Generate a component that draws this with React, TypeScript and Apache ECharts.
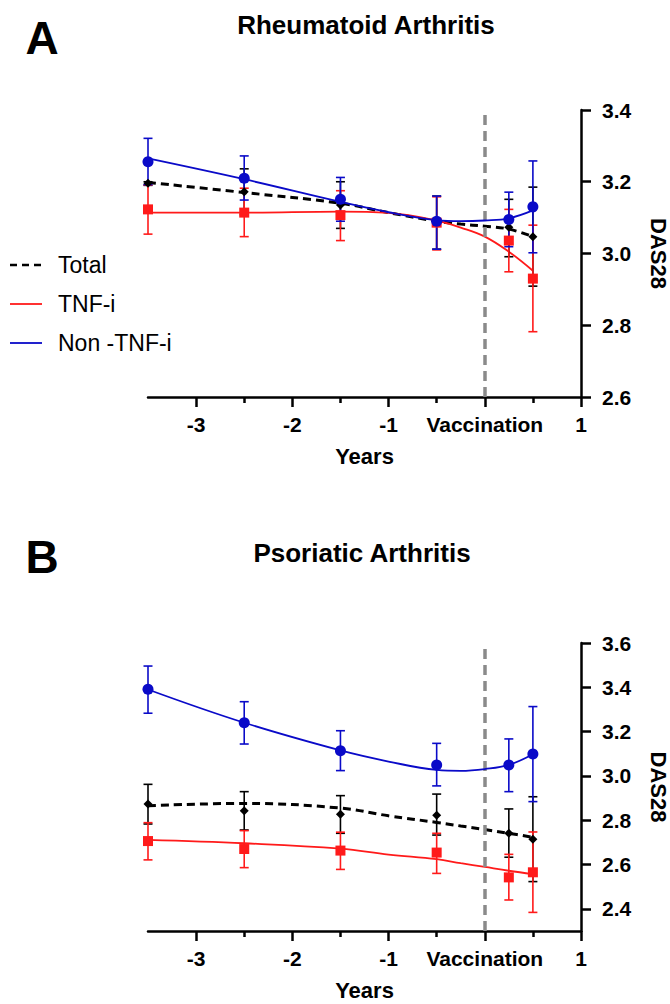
import React, { useEffect, useRef } from "react";
import * as echarts from "echarts";

// ---------- data ----------
const timePoints = [-3.5, -2.5, -1.5, -0.5, 0.25, 0.5];
const xTickValues = [-3, -2, -1, 0, 1];
const xMinorTickValues = [-2.5, -1.5, -0.5, 0.5];

// Rheumatoid arthritis (panel A)
const raTotalMean = [3.196, 3.172, 3.135, 3.088, 3.073, 3.047];
const raTotalLow = [3.19, 3.108, 3.07, 3.012, 2.991, 2.909];
const raTotalHigh = [3.2, 3.236, 3.2, 3.16, 3.151, 3.185];
const raTnfMean = [3.123, 3.114, 3.107, 3.086, 3.036, 2.93];
const raTnfLow = [3.054, 3.047, 3.036, 3.01, 2.949, 2.782];
const raTnfHigh = [3.191, 3.182, 3.175, 3.158, 3.123, 3.079];
const raNonMean = [3.256, 3.21, 3.151, 3.09, 3.095, 3.13];
const raNonLow = [3.192, 3.149, 3.09, 3.012, 3.019, 3.002];
const raNonHigh = [3.321, 3.272, 3.212, 3.16, 3.171, 3.258];

// fitted curves
const curveX = [-3.5, -2.5, -1.5, -1, -0.5, -0.25, 0, 0.25, 0.5];
const raTotalFit = [3.198, 3.17, 3.14, 3.114, 3.09, 3.082, 3.076, 3.068, 3.047];
const raTnfFit = [3.114, 3.114, 3.117, 3.113, 3.092, 3.072, 3.047, 3.005, 2.952];
const raNonFit = [3.265, 3.207, 3.144, 3.115, 3.093, 3.09, 3.092, 3.098, 3.12];

// Psoriatic arthritis (panel B)
const psaTotalMean = [2.873, 2.843, 2.827, 2.822, 2.741, 2.714];
const psaTotalLow = [2.783, 2.756, 2.741, 2.733, 2.633, 2.523];
const psaTotalHigh = [2.962, 2.929, 2.911, 2.918, 2.851, 2.906];
const psaTnfMean = [2.706, 2.67, 2.663, 2.654, 2.542, 2.565];
const psaTnfLow = [2.621, 2.586, 2.578, 2.56, 2.44, 2.384];
const psaTnfHigh = [2.789, 2.753, 2.746, 2.741, 2.646, 2.747];
const psaNonMean = [3.391, 3.24, 3.114, 3.049, 3.049, 3.099];
const psaNonLow = [3.283, 3.144, 3.024, 2.955, 2.929, 2.884];
const psaNonHigh = [3.496, 3.335, 3.204, 3.147, 3.167, 3.313];

const psaTotalFit = [2.865, 2.876, 2.855, 2.82, 2.79, 2.774, 2.758, 2.741, 2.723];
const psaTnfFit = [2.711, 2.696, 2.672, 2.645, 2.624, 2.606, 2.589, 2.572, 2.557];
const psaNonFit = [3.39, 3.24, 3.115, 3.065, 3.027, 3.023, 3.031, 3.05, 3.098];

const raYTicks = [2.6, 2.8, 3.0, 3.2, 3.4];
const psaYTicks = [2.4, 2.6, 2.8, 3.0, 3.2, 3.4, 3.6];

const legendNames = ["Total", "TNF-i", "Non -TNF-i"];

// ---------- style ----------
const FONT = "'Liberation Sans', Arial, Helvetica, sans-serif";
const BLUE = "#0a0ac8";
const RED = "#ff1a1a";
const BLACK = "#000000";
const GREY = "#8a8a8a";

const zip = (xs: number[], ys: number[]) => xs.map((x, i) => [x, ys[i]]);
const zip3 = (xs: number[], a: number[], b: number[]) => xs.map((x, i) => [x, a[i], b[i]]);

function errorSeries(gi: number, color: string, low: number[], high: number[], z: number) {
  return {
    type: "custom",
    xAxisIndex: gi * 2,
    yAxisIndex: gi,
    z,
    silent: true,
    encode: { x: 0, y: [1, 2] },
    data: zip3(timePoints, low, high),
    renderItem: (params: any, api: any) => {
      const x = api.value(0);
      const lo = api.coord([x, api.value(1)]);
      const hi = api.coord([x, api.value(2)]);
      const w = 4.5;
      const st = { stroke: color, lineWidth: 1.6 };
      return {
        type: "group",
        children: [
          { type: "line", shape: { x1: hi[0], y1: hi[1], x2: lo[0], y2: lo[1] }, style: st },
          { type: "line", shape: { x1: hi[0] - w, y1: hi[1], x2: hi[0] + w, y2: hi[1] }, style: st },
          { type: "line", shape: { x1: lo[0] - w, y1: lo[1], x2: lo[0] + w, y2: lo[1] }, style: st },
        ],
      };
    },
  };
}

function fitSeries(gi: number, color: string, ys: number[], dashed: boolean, z: number, withVLine: boolean) {
  const s: any = {
    type: "line",
    xAxisIndex: gi * 2,
    yAxisIndex: gi,
    z,
    smooth: 0.4,
    showSymbol: false,
    silent: true,
    data: zip(curveX, ys),
    lineStyle: dashed
      ? { color, width: 3, type: [8, 5] }
      : { color, width: 1.8 },
  };
  if (withVLine) {
    s.markLine = {
      silent: true,
      symbol: "none",
      label: { show: false },
      lineStyle: { color: GREY, width: 3.5, type: [10, 6] },
      data: [{ xAxis: 0 }],
    };
  }
  return s;
}

function markerSeries(gi: number, color: string, ys: number[], symbol: string, size: number, z: number) {
  return {
    type: "scatter",
    xAxisIndex: gi * 2,
    yAxisIndex: gi,
    z,
    symbol,
    symbolSize: size,
    silent: true,
    itemStyle: { color, opacity: 1 },
    data: zip(timePoints, ys),
  };
}

function panelSeries(gi: number, d: any) {
  return [
    fitSeries(gi, BLACK, d.totalFit, true, 3, true),
    fitSeries(gi, RED, d.tnfFit, false, 4, false),
    fitSeries(gi, BLUE, d.nonFit, false, 5, false),
    errorSeries(gi, BLACK, d.totalLow, d.totalHigh, 6),
    errorSeries(gi, RED, d.tnfLow, d.tnfHigh, 7),
    errorSeries(gi, BLUE, d.nonLow, d.nonHigh, 8),
    markerSeries(gi, BLACK, d.totalMean, "diamond", 9, 9),
    markerSeries(gi, RED, d.tnfMean, "rect", 10, 10),
    markerSeries(gi, BLUE, d.nonMean, "circle", 11, 11),
  ];
}

function xAxes(gi: number) {
  const line = { show: true, lineStyle: { color: BLACK, width: 2.5 } };
  return [
    {
      type: "value",
      gridIndex: gi,
      min: -3.5,
      max: 1,
      axisLine: { ...line, onZero: false },
      axisTick: { show: true, customValues: xTickValues, length: 10, lineStyle: { color: BLACK, width: 2.5 } },
      axisLabel: {
        show: true,
        customValues: xTickValues,
        formatter: (v: number) => (v === 0 ? "Vaccination" : String(v)),
        color: BLACK,
        fontFamily: FONT,
        fontWeight: "bold",
        fontSize: 21,
        margin: 17,
      },
      splitLine: { show: false },
      name: "Years",
      nameLocation: "middle",
      nameGap: 48,
      nameTextStyle: { color: BLACK, fontFamily: FONT, fontWeight: "bold", fontSize: 22 },
    },
    {
      type: "value",
      gridIndex: gi,
      min: -3.5,
      max: 1,
      position: "bottom",
      axisLine: { show: false, onZero: false },
      axisTick: { show: true, customValues: xMinorTickValues, length: 6, lineStyle: { color: BLACK, width: 2.5 } },
      axisLabel: { show: false },
      splitLine: { show: false },
    },
  ];
}

function yAxis(gi: number, min: number, max: number, ticks: number[]) {
  return {
    type: "value",
    gridIndex: gi,
    position: "right",
    min,
    max,
    axisLine: { show: true, onZero: false, lineStyle: { color: BLACK, width: 2.5 } },
    axisTick: { show: true, customValues: ticks, length: 10, lineStyle: { color: BLACK, width: 2.5 } },
    axisLabel: {
      show: true,
      customValues: ticks,
      formatter: (v: number) => v.toFixed(1),
      color: BLACK,
      fontFamily: FONT,
      fontWeight: "bold",
      fontSize: 21,
      margin: 21,
    },
    splitLine: { show: false },
    name: "DAS28",
    nameLocation: "middle",
    nameRotate: -90,
    nameGap: 66,
    nameTextStyle: { color: BLACK, fontFamily: FONT, fontWeight: "bold", fontSize: 22 },
  };
}

function legendGraphic() {
  const rows = [
    { y: 265, color: BLACK, dash: [7, 5], width: 2.5, name: legendNames[0] },
    { y: 304, color: RED, dash: null, width: 1.8, name: legendNames[1] },
    { y: 343, color: BLUE, dash: null, width: 1.8, name: legendNames[2] },
  ];
  const out: any[] = [];
  rows.forEach((r) => {
    out.push({
      type: "line",
      shape: { x1: 10, y1: r.y, x2: 42, y2: r.y },
      style: { stroke: r.color, lineWidth: r.width, lineDash: r.dash || undefined },
    });
    out.push({
      type: "text",
      x: 58,
      y: r.y,
      style: { text: r.name, fill: BLACK, font: `23px ${FONT}`, textAlign: "left", textVerticalAlign: "middle" },
    });
  });
  return out;
}

function textGraphic(text: string, x: number, y: number, size: number, align: string) {
  return {
    type: "text",
    x,
    y,
    style: { text, fill: BLACK, font: `bold ${size}px ${FONT}`, textAlign: align, textVerticalAlign: "middle" },
  };
}

export default function App() {
  const ref = useRef<HTMLDivElement>(null);
  useEffect(() => {
    if (!ref.current) return;
    const chart = echarts.init(ref.current, undefined, { renderer: "svg" });
    const ra = {
      totalMean: raTotalMean, totalLow: raTotalLow, totalHigh: raTotalHigh, totalFit: raTotalFit,
      tnfMean: raTnfMean, tnfLow: raTnfLow, tnfHigh: raTnfHigh, tnfFit: raTnfFit,
      nonMean: raNonMean, nonLow: raNonLow, nonHigh: raNonHigh, nonFit: raNonFit,
    };
    const psa = {
      totalMean: psaTotalMean, totalLow: psaTotalLow, totalHigh: psaTotalHigh, totalFit: psaTotalFit,
      tnfMean: psaTnfMean, tnfLow: psaTnfLow, tnfHigh: psaTnfHigh, tnfFit: psaTnfFit,
      nonMean: psaNonMean, nonLow: psaNonLow, nonHigh: psaNonHigh, nonFit: psaNonFit,
    };
    chart.setOption({
      animation: false,
      backgroundColor: "#ffffff",
      grid: [
        { left: 148, top: 110, width: 433, height: 287, containLabel: false, outerBoundsMode: "none" },
        { left: 148, top: 643, width: 433, height: 288, containLabel: false, outerBoundsMode: "none" },
      ],
      xAxis: [...xAxes(0), ...xAxes(1)],
      yAxis: [yAxis(0, 2.6, 3.4, raYTicks), yAxis(1, 2.3, 3.6, psaYTicks)],
      series: [...panelSeries(0, ra), ...panelSeries(1, psa)],
      graphic: [
        textGraphic("A", 42, 38, 46, "center"),
        textGraphic("Rheumatoid Arthritis", 366, 25, 26, "center"),
        textGraphic("B", 42, 557, 46, "center"),
        textGraphic("Psoriatic Arthritis", 362, 553, 26, "center"),
        ...legendGraphic(),
      ],
    });
    return () => chart.dispose();
  }, []);
  return (
    <div
      ref={ref}
      style={{ position: "fixed", left: 0, top: 0, width: 670, height: 1004, background: "#fff" }}
    />
  );
}
